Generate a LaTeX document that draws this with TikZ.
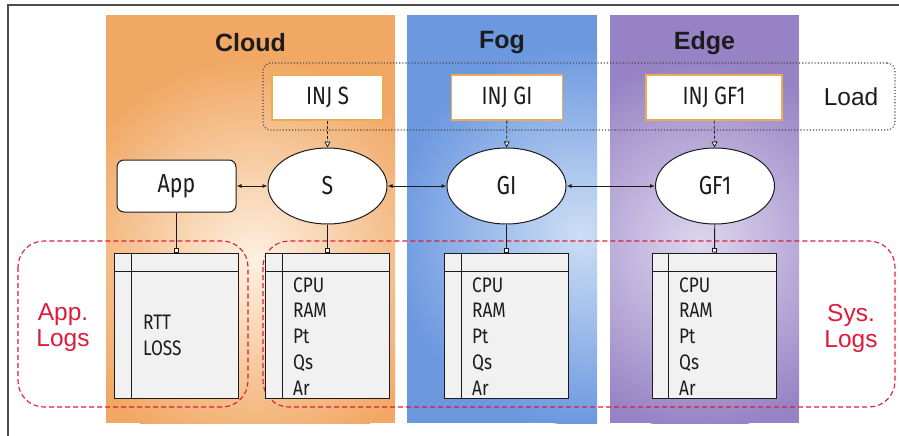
\documentclass[tikz,border=0pt]{standalone}
\usepackage{fontspec}
\setmainfont{Liberation Sans}
\newfontfamily\condfont[FakeStretch=0.82]{Fira Sans}
\usetikzlibrary{arrows.meta,shapes.geometric}
\definecolor{cloudO}{RGB}{241,168,100}
\definecolor{cloudI}{RGB}{253,240,226}
\definecolor{fogO}{RGB}{108,152,224}
\definecolor{fogI}{RGB}{205,222,245}
\definecolor{edgeO}{RGB}{150,130,196}
\definecolor{edgeI}{RGB}{222,215,238}
\definecolor{logred}{RGB}{222,28,58}
\definecolor{tblfill}{RGB}{241,241,241}
\definecolor{injborder}{RGB}{236,172,84}
\definecolor{ink}{RGB}{28,28,28}
\begin{document}
\begin{tikzpicture}[x=1pt,y=-1pt,
  title/.style={font=\bfseries\fontsize{25}{25}\selectfont, text=ink},
  injbox/.style={draw=injborder, line width=1.1pt, fill=white, minimum height=45pt, inner sep=0pt, font=\condfont\fontsize{25}{25}\selectfont, text=ink},
  hostell/.style={ellipse, draw=ink, line width=1pt, fill=white, minimum width=119pt, minimum height=76pt, inner sep=0pt, font=\condfont\fontsize{26}{26}\selectfont, text=ink},
  tbl/.style={rectangle, draw=ink, line width=1pt, fill=tblfill, minimum width=124pt, minimum height=145pt, inner sep=0pt},
  tbltxt/.style={anchor=base west, inner sep=0pt, font=\condfont\fontsize{21}{21}\selectfont, text=ink},
  link/.style={draw=ink, line width=0.9pt, {Latex[length=5pt,width=4pt]}-{Latex[length=5pt,width=4pt]}},
  inj/.style={draw=ink, line width=0.8pt, dashed, dash pattern=on 3pt off 2pt, -{Triangle[open,length=6pt,width=6pt,fill=white]}},
  drop/.style={draw=ink, line width=0.9pt, -{Square[open,length=4.5pt,width=5pt,fill=white]}},
  logbox/.style={draw=logred, line width=1.1pt, dash pattern=on 5pt off 3pt, rounded corners=26pt},
  logtxt/.style={text=logred, align=center, font=\fontsize{24.5}{26}\selectfont, inner sep=0pt}
]
\useasboundingbox (0,0) rectangle (899,436);
\fill[white] (0,0) rectangle (899,436);
\draw[black!70, line width=1.2pt] (8,436) -- (8,5) -- (899,5);

% column backgrounds
\begin{scope}
  \clip (106,15) rectangle (395,423);
  \fill[cloudO] (106,15) rectangle (395,423);
  \shade[inner color=cloudI, outer color=cloudO] (255,260) circle (200pt);
\end{scope}
\begin{scope}
  \clip (407,15) rectangle (597,423);
  \fill[fogO] (407,15) rectangle (597,423);
  \shade[inner color=fogI, outer color=fogO] (580,235) circle (190pt);
\end{scope}
\begin{scope}
  \clip (610,15) rectangle (799,423);
  \fill[edgeO] (610,15) rectangle (799,423);
  \shade[inner color=edgeI, outer color=edgeO] (700,245) circle (185pt);
\end{scope}

\node[title] (tcloud) at (250.5,43) {Cloud};
\node[title] (tfog) at (502,43) {Fog};
\node[title] (tedge) at (704.5,43) {Edge};

% load box
\node[draw=ink!80, dotted, line width=1.1pt, rounded corners=8pt, minimum width=632pt, minimum height=67pt, inner sep=0pt] (load) at (579,96.5) {};
\node[font=\fontsize{24.5}{24.5}\selectfont, text=ink] (loadtxt) at (851,97) {Load};

% injectors
\node[injbox, minimum width=111pt] (injs) at (327.5,97.5) {INJ S};
\node[injbox, minimum width=111pt] (injgi) at (507,97.5) {INJ GI};
\node[injbox, minimum width=136pt] (injgf) at (714,97.5) {INJ GF1};

% hosts
\node[draw=ink, line width=1pt, fill=white, rounded corners=7pt, minimum width=119pt, minimum height=52pt, inner sep=0pt, font=\condfont\fontsize{26}{26}\selectfont, text=ink] (app) at (176.5,186) {App};
\node[hostell] (s) at (327.5,186) {S};
\node[hostell] (gi) at (506.5,186) {GI};
\node[hostell] (gf) at (715,186) {GF1};

\draw[inj] (injs) -- (s);
\draw[inj] (injgi) -- (gi);
\draw[inj] (injgf) -- (gf);

\draw[link] (app) -- (s);
\draw[link] (s) -- (gi);
\draw[link] (gi) -- (gf);

% log boxes
\draw[logbox] (18,241) rectangle (248,407);
\draw[logbox] (263,241) rectangle (895,407);

% tables
\node[tbl] (tapp) at (176.5,325.5) {};
\node[tbl] (ts) at (327.5,325.5) {};
\node[tbl] (tgi) at (506.5,325.5) {};
\node[tbl] (tgf) at (714,325.5) {};
\foreach \t in {tapp,ts,tgi,tgf}{
  \draw[ink, line width=1pt] ([xshift=17pt]\t.north west) -- ([xshift=17pt]\t.south west);
  \draw[ink, line width=1pt] ([yshift=-19pt]\t.north west) -- ([yshift=-19pt]\t.north east);
}

\draw[drop] (app) -- (tapp);
\draw[drop] (s) -- (ts);
\draw[drop] (gi) -- (tgi);
\draw[drop] (gf) -- (tgf);

\node[tbltxt] (rtt) at (143,329) {RTT};
\node[tbltxt] (loss) at (143,355) {LOSS};
\foreach \t/\x in {ts/293, tgi/472, tgf/679}{
  \node[tbltxt] (\t-cpu) at (\x,292) {CPU};
  \node[tbltxt] (\t-ram) at (\x,317.75) {RAM};
  \node[tbltxt] (\t-pt) at (\x,343.5) {Pt};
  \node[tbltxt] (\t-qs) at (\x,369.25) {Qs};
  \node[tbltxt] (\t-ar) at (\x,395) {Ar};
}

\node[logtxt] (applogs) at (63,328) {App.\\Logs};
\node[logtxt] (syslogs) at (851,328) {Sys.\\Logs};
\end{tikzpicture}
\end{document}
